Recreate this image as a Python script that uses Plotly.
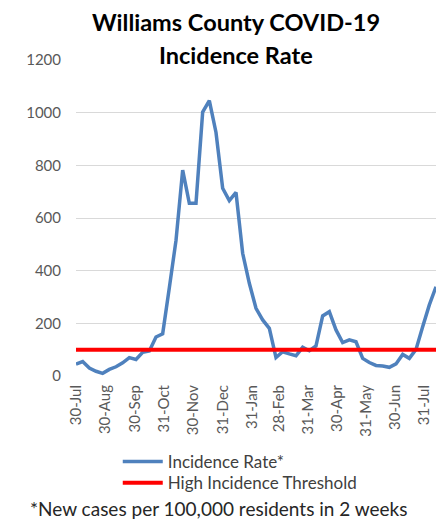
import plotly.graph_objects as go

dates = [
    "2020-07-30", "2020-08-06", "2020-08-13", "2020-08-20", "2020-08-27",
    "2020-09-03", "2020-09-10", "2020-09-17", "2020-09-24", "2020-10-01",
    "2020-10-08", "2020-10-15", "2020-10-22", "2020-10-29", "2020-11-05",
    "2020-11-12", "2020-11-19", "2020-11-26", "2020-12-03", "2020-12-10",
    "2020-12-17", "2020-12-24", "2020-12-31", "2021-01-07", "2021-01-14",
    "2021-01-21", "2021-01-28", "2021-02-04", "2021-02-11", "2021-02-18",
    "2021-02-25", "2021-03-04", "2021-03-11", "2021-03-18", "2021-03-25",
    "2021-04-01", "2021-04-08", "2021-04-15", "2021-04-22", "2021-04-29",
    "2021-05-06", "2021-05-13", "2021-05-20", "2021-05-27", "2021-06-03",
    "2021-06-10", "2021-06-17", "2021-06-24", "2021-07-01", "2021-07-08",
    "2021-07-15", "2021-07-22", "2021-07-29", "2021-08-05", "2021-08-12",
]

incidence_rate = [
    45, 55, 30, 18, 10, 25, 35, 50, 70, 63,
    90, 95, 148, 160, 335, 515, 782, 656, 656, 1002,
    1046, 925, 713, 666, 697, 466, 352, 257, 213, 181,
    70, 92, 84, 77, 109, 96, 114, 228, 244, 175,
    127, 137, 130, 67, 51, 40, 38, 33, 46, 82,
    67, 101, 187, 270, 339,
]

threshold = 100

tick_dates = [
    "2020-07-30", "2020-08-30", "2020-09-30", "2020-10-31", "2020-11-30",
    "2020-12-31", "2021-01-31", "2021-02-28", "2021-03-31", "2021-04-30",
    "2021-05-31", "2021-06-30", "2021-07-31",
]
tick_labels = [
    "30-Jul", "30-Aug", "30-Sep", "31-Oct", "30-Nov", "31-Dec", "31-Jan",
    "28-Feb", "31-Mar", "30-Apr", "31-May", "30-Jun", "31-Jul",
]

y_ticks = [0, 200, 400, 600, 800, 1000, 1200]

FONT = "Lato, 'Open Sans', sans-serif"

fig = go.Figure()
fig.add_trace(go.Scatter(
    x=dates, y=incidence_rate, mode="lines", name="Incidence Rate*",
    line=dict(color="#4F81BD", width=3.5), legend="legend",
))
fig.add_trace(go.Scatter(
    x=[dates[0], dates[-1]], y=[threshold, threshold], mode="lines",
    name="High Incidence Threshold",
    line=dict(color="#FF0000", width=4), legend="legend2",
))

legend_common = dict(
    xanchor="left", yanchor="middle", orientation="v",
    font=dict(size=17, color="#404040"), bgcolor="rgba(0,0,0,0)",
    itemwidth=40,
)

fig.update_layout(
    width=444, height=521,
    margin=dict(l=76, r=8, t=60, b=145, autoexpand=False),
    paper_bgcolor="white", plot_bgcolor="white",
    font=dict(family=FONT, color="#595959", size=15),
    showlegend=True,
    legend=dict(x=0.116, y=-0.272, **legend_common),
    legend2=dict(x=0.116, y=-0.339, **legend_common),
    xaxis=dict(
        type="date",
        range=[dates[0], dates[-1]],
        tickmode="array", tickvals=tick_dates, ticktext=tick_labels,
        tickangle=-90, showgrid=False, zeroline=False, showline=False,
        ticks="", tickfont=dict(size=15, color="#595959"),
        ticklabelstandoff=5, automargin=False,
    ),
    yaxis=dict(
        range=[0, 1200], tickvals=y_ticks, showgrid=True,
        gridcolor="#D9D9D9", gridwidth=1, zeroline=False, showline=False,
        ticks="", tickfont=dict(size=15, color="#595959"),
        ticklabelstandoff=14, automargin=False,
    ),
    annotations=[
        dict(text="<b>Williams County COVID-19</b>", xref="paper", yref="paper",
             x=0.444, y=1.12, xanchor="center", yanchor="middle",
             showarrow=False, font=dict(size=23.5, color="#000000", family=FONT)),
        dict(text="<b>Incidence Rate</b>", xref="paper", yref="paper",
             x=0.444, y=1.017, xanchor="center", yanchor="middle",
             showarrow=False, font=dict(size=23.5, color="#000000", family=FONT)),
        dict(text="*New cases per 100,000 residents in 2 weeks", xref="paper",
             yref="paper", x=0.397, y=-0.418, xanchor="center", yanchor="middle",
             showarrow=False, font=dict(size=19, color="#262626", family=FONT)),
    ],
)

fig.write_html("out.html", config={"displayModeBar": False},
               post_script="document.body.style.margin='0';")
